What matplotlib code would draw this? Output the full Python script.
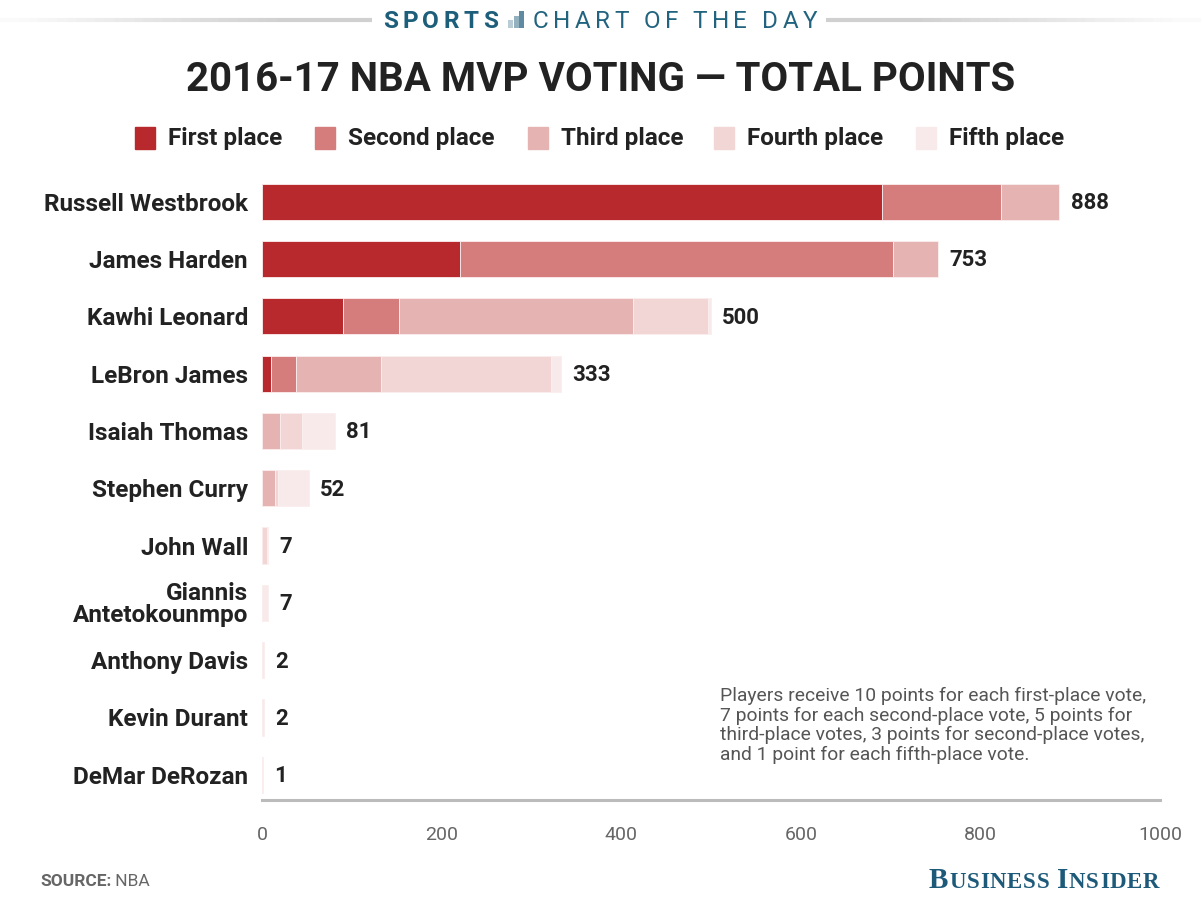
"""
2016-17 NBA MVP 投票 — 堆疊橫條圖
"""
import matplotlib
matplotlib.use('Agg')
import matplotlib.pyplot as plt
from matplotlib.patches import Rectangle
from matplotlib.lines import Line2D
import numpy as np

# 資料
players = ['Russell Westbrook', 'James Harden', 'Kawhi Leonard', 'LeBron James',
           'Isaiah Thomas', 'Stephen Curry', 'John Wall', 'Giannis\nAntetokounmpo',
           'Anthony Davis', 'Kevin Durant', 'DeMar DeRozan']
first_pts = [690, 220, 90, 10, 0, 0, 0, 0, 0, 0, 0]
second_pts = [133, 483, 63, 28, 0, 0, 0, 0, 0, 0, 0]
third_pts = [65, 50, 260, 95, 20, 15, 0, 0, 0, 0, 0]
fourth_pts = [0, 0, 84, 189, 24, 3, 6, 0, 0, 0, 0]
fifth_pts = [0, 0, 3, 11, 37, 34, 1, 7, 2, 2, 1]
totals = [888, 753, 500, 333, 81, 52, 7, 7, 2, 2, 1]

place_labels = ['First place', 'Second place', 'Third place', 'Fourth place', 'Fifth place']
place_colors = ['#b8292d', '#d47d7c', '#e6b3b3', '#f2d6d6', '#f8e9ea']
x_ticks = [0, 200, 400, 600, 800, 1000]

note = ('Players receive 10 points for each first-place vote,\n'
        '7 points for each second-place vote, 5 points for\n'
        'third-place votes, 3 points for second-place votes,\n'
        'and 1 point for each fifth-place vote.')

DARK = '#222222'
TEAL = '#1d5f7b'
W, H = 1201, 900

plt.rcParams['font.family'] = ['Roboto', 'DejaVu Sans']

fig = plt.figure(figsize=(12.01, 9), dpi=100)
renderer = fig.canvas.get_renderer()


def fx(px):
    return px / W


def fy(py):
    return 1 - py / H


def seq_text(pieces, x_px, y_px, tracking=0.0, **common):
    """逐段放置文字（可加字距），回傳結束位置 (px)"""
    x = x_px
    for txt, props in pieces:
        kw = dict(common)
        kw.update(props)
        chars = list(txt) if tracking else [txt]
        for ch in chars:
            t = fig.text(fx(x), fy(y_px), ch, ha='left', va='baseline', **kw)
            w = t.get_window_extent(renderer).width
            x += w + tracking
    return x


ax = fig.add_axes([fx(262), fy(800), (1160 - 262) / W, (800 - 173) / H])

y = np.arange(len(players))
left = np.zeros(len(players))
for vals, color in zip([first_pts, second_pts, third_pts, fourth_pts, fifth_pts], place_colors):
    vals = np.array(vals)
    ax.barh(y, vals, left=left, height=0.63, color=color,
            edgecolor='#fbeeee', linewidth=0.6)
    left += vals

for yi, tot in zip(y, totals):
    ax.annotate(str(tot), (tot, yi), xytext=(8, -1), textcoords='offset points',
                va='center', ha='left', fontsize=16, fontweight='bold', color=DARK)

ax.set_xlim(0, 1000)
ax.set_ylim(len(players) - 1 + 0.44, -0.5)
ax.set_yticks(y)
ax.set_yticklabels(players, fontsize=17.5, fontweight='bold', color=DARK, linespacing=0.9)
ax.set_xticks(x_ticks)
ax.set_xticklabels([str(t) for t in x_ticks], fontsize=14, color='#666666')
ax.tick_params(axis='both', length=0)
ax.tick_params(axis='y', pad=10)
ax.tick_params(axis='x', pad=19)
for side in ['top', 'right', 'left']:
    ax.spines[side].set_visible(False)
ax.spines['bottom'].set_color('#bbbbbb')
ax.spines['bottom'].set_linewidth(2.2)

# 說明文字
fig.text(fx(720), fy(687), note, ha='left', va='top', fontsize=13.9,
         color='#555555', linespacing=1.1)

# 標題
fig.text(0.5, fy(80), '2016-17 NBA MVP VOTING — TOTAL POINTS', ha='center',
         va='center', fontsize=29, fontweight='bold', color=DARK)

# 圖例
legend_x = [135, 315, 528, 714, 916]
for lx, lab, col in zip(legend_x, place_labels, place_colors):
    fig.patches.append(Rectangle((fx(lx), fy(149)), 20 / W, 22 / H,
                                 transform=fig.transFigure, color=col))
    fig.text(fx(lx + 33), fy(138), lab, ha='left', va='center',
             fontsize=17.5, fontweight='bold', color=DARK)

# 頁首：兩側漸淡灰線
for x0, x1, inner in [(0, 372, 372), (826, W, 826)]:
    xs = np.linspace(x0, x1, 40)
    for i in range(len(xs) - 1):
        mid = (xs[i] + xs[i + 1]) / 2
        a = 1 - abs(mid - inner) / 380
        fig.add_artist(Line2D([fx(xs[i]), fx(xs[i + 1])], [fy(20)] * 2,
                              transform=fig.transFigure, color='#d0d0d0',
                              alpha=max(0.1, min(1, a * 1.3)), linewidth=3,
                              solid_capstyle='butt'))
seq_text([('SPORTS', {})], 383, 28, tracking=4.4, fontsize=17.5, fontweight='bold',
         color=TEAL)
icon_h = [8, 12, 17]
icon_c = ['#b9ccd6', '#93b0bf', '#5f8aa1']
for i, (h, c) in enumerate(zip(icon_h, icon_c)):
    fig.patches.append(Rectangle((fx(508 + i * 5.5), fy(28)), 5 / W, h / H,
                                 transform=fig.transFigure, color=c, linewidth=0))
seq_text([('CHART OF THE DAY', {})], 533, 28, tracking=4.4, fontsize=17.5,
         color='#22647f')

# 頁尾
seq_text([('SOURCE:', {'fontweight': 'bold'}), (' NBA', {})], 40, 886,
         fontsize=12.5, color='#666666')
serif = ['Liberation Serif', 'DejaVu Serif']
seq_text([('B', {'fontsize': 21}), ('USINESS ', {'fontsize': 16.5}),
          ('I', {'fontsize': 21}), ('NSIDER', {'fontsize': 16.5})], 929, 888,
         tracking=0.8, color='#1d5a7a', family=serif, fontweight='bold')

fig.savefig('out.png', dpi=100, facecolor='white')
